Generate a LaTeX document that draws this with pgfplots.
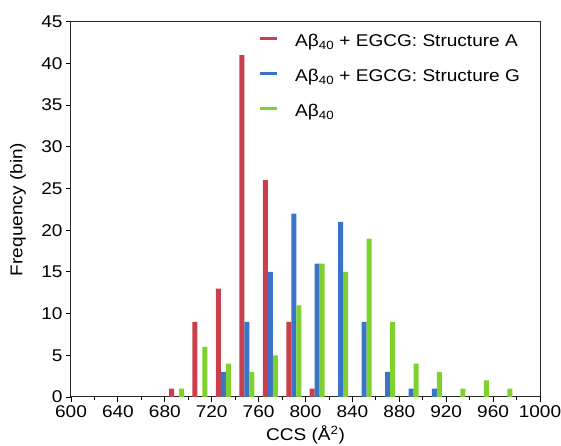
\documentclass[border=0pt]{standalone}
\usepackage{pgfplots}
\pgfplotsset{compat=1.18}
\usepackage{fontspec}
\setmainfont[FakeStretch=1.12]{Liberation Sans}
\definecolor{cA}{HTML}{C9404C}
\definecolor{cG}{HTML}{3B74C6}
\definecolor{cP}{HTML}{7FD12E}
\begin{document}
\begin{tikzpicture}
\begin{axis}[
  scale only axis, width=469pt, height=375.3pt,
  xmin=600, xmax=1000, ymin=0, ymax=45,
  xtick={600,640,...,1000}, minor x tick num=1,
  ytick={0,5,...,45},
  tick align=outside, tick pos=left,
  major tick length=5pt, minor tick length=3pt,
  axis line style={black!85, line width=1pt},
  every tick/.style={black, line width=0.9pt},
  /pgf/number format/assume math mode=true,
  /pgf/number format/1000 sep={},
  ticklabel style={font=\fontsize{17}{17}\selectfont},
  label style={font=\fontsize{17}{17}\selectfont},
  xlabel={CCS (Å\textsuperscript{2})},
  ylabel={Frequency (bin)},
  xlabel style={at={(axis description cs:0.5,0)}, anchor=base, yshift=-43.5pt},
  ylabel style={at={(axis description cs:-0.113,0.5)}, anchor=center},
  ybar, bar width=5pt,
  legend style={at={(0.403,0.9667)}, anchor=north west, draw=none, fill=none,
    inner sep=0pt, row sep=18pt, font=\fontsize{17}{17}\selectfont,
    nodes={inner sep=0pt, text height=12.5pt, text depth=4.5pt},
    /tikz/every odd column/.append style={column sep=18pt}},
  legend cell align=left,
  legend image code/.code={\fill[#1] (0pt,3pt) rectangle (17pt,6pt);},
]
\addplot[fill=cA, draw=none, bar shift=-5pt] coordinates {
(690,1) (710,9) (730,13) (750,41) (770,26) (790,9) (810,1)};
\addplot[fill=cG, draw=none, bar shift=0pt] coordinates {
(730,3) (750,9) (770,15) (790,22) (810,16) (830,21) (850,9) (870,3) (890,1) (910,1)};
\addplot[fill=cP, draw=none, bar shift=5pt] coordinates {
(690,1) (710,6) (730,4) (750,3) (770,5) (790,11) (810,16) (830,15) (850,19) (870,9) (890,4) (910,3) (930,1) (950,2) (970,1)};
\legend{Aβ\textsubscript{40} + EGCG: Structure A, Aβ\textsubscript{40} + EGCG: Structure G, Aβ\textsubscript{40}}
\end{axis}
\pgfresetboundingbox
\path ([shift={(-71pt,-49pt)}]current axis.south west) rectangle ([shift={(21pt,21.7pt)}]current axis.north east);
\end{tikzpicture}
\end{document}
